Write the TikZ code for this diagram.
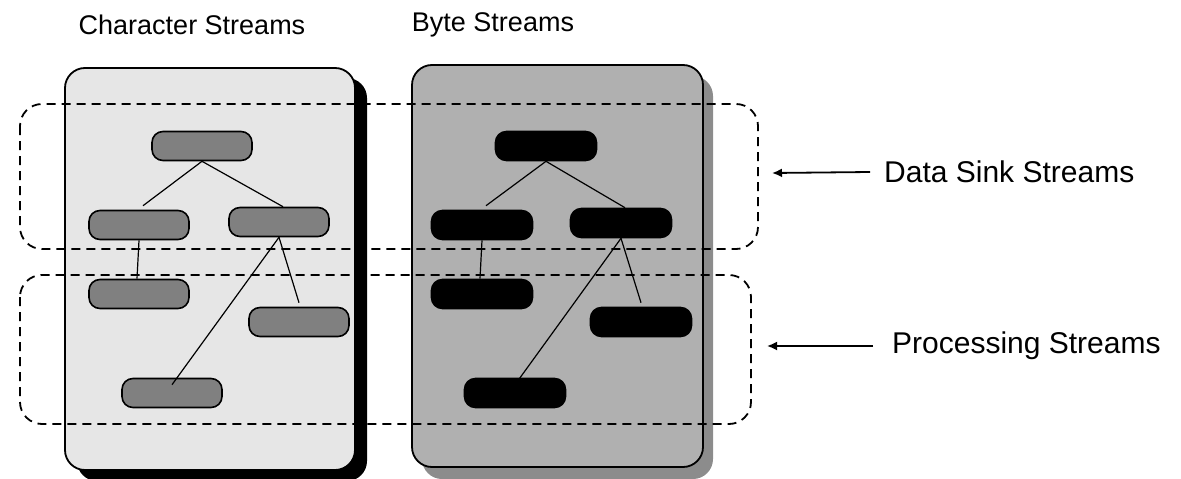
\documentclass[tikz,border=0pt]{standalone}
\usepackage{fontspec}
\setmainfont{Liberation Sans}
\usetikzlibrary{arrows.meta}
\definecolor{charfill}{HTML}{E6E6E6}
\definecolor{bytefill}{HTML}{B0B0B0}
\definecolor{charnode}{HTML}{808080}
\definecolor{byteshadow}{HTML}{8C8C8C}
\tikzset{
  panel/.style={draw=black, line width=1.8pt, rounded corners=20pt},
  cnode/.style={draw=black, fill=charnode, line width=1.6pt, rounded corners=11pt, minimum width=100pt, minimum height=29pt, inner sep=0pt},
  bnode/.style={draw=black, fill=black, line width=1.6pt, rounded corners=11pt, minimum width=101pt, minimum height=29pt, inner sep=0pt},
  link/.style={draw=black, line width=1.2pt},
  region/.style={draw=black, line width=1.8pt, dash pattern=on 9pt off 6pt, rounded corners=22pt},
  toplabel/.style={font=\fontsize{27}{30}\selectfont, inner sep=0pt},
  sidelabel/.style={font=\fontsize{30}{33}\selectfont, inner sep=0pt, anchor=west},
  pointer/.style={draw=black, line width=1.8pt, -{Latex[length=10pt,width=9pt]}}
}
\begin{document}
\begin{tikzpicture}[x=1pt,y=-1pt]
\useasboundingbox (0,0) rectangle (1181,479);
% panels with shadows
\fill[black, rounded corners=20pt] (77,78) rectangle (367,481);
\draw[panel, fill=charfill] (65,68) rectangle (355,470);
\fill[byteshadow, rounded corners=20pt] (422,76) rectangle (713,479);
\draw[panel, fill=bytefill] (412,65) rectangle (703,467);
% labels
\node[toplabel] (lchar) at (192,25) {Character Streams};
\node[toplabel] (lbyte) at (493,25) {Byte Streams};
% character nodes
\node[cnode] (c1) at (202,146) {};
\node[cnode] (c2) at (139,225) {};
\node[cnode] (c3) at (279,222) {};
\node[cnode] (c4) at (139,294) {};
\node[cnode] (c5) at (299,322) {};
\node[cnode] (c6) at (172,393) {};
\draw[link] (c1.south) -- ([xshift=4pt,yshift=4pt]c2.north);
\draw[link] (c1.south) -- ([xshift=4pt]c3.north);
\draw[link] (c2.south) -- ([xshift=-2pt]c4.north);
\draw[link] (c3.south) -- ([yshift=4pt]c5.north);
\draw[link] (c3.south) -- ([yshift=-7pt]c6.north);
% byte nodes
\node[bnode] (b1) at (546,146) {};
\node[bnode] (b2) at (482,225) {};
\node[bnode] (b3) at (621,223) {};
\node[bnode] (b4) at (482,294) {};
\node[bnode] (b5) at (641,322) {};
\node[bnode] (b6) at (515,393) {};
\draw[link] (b1.south) -- ([xshift=4pt,yshift=4pt]b2.north);
\draw[link] (b1.south) -- ([xshift=4pt]b3.north);
\draw[link] (b2.south) -- ([xshift=-2pt]b4.north);
\draw[link] (b3.south) -- ([yshift=4pt]b5.north);
\draw[link] (b3.south) -- ([yshift=-7pt]b6.north);
% dashed regions
\draw[region] (20,104) rectangle (758,249);
\draw[region] (20,275) rectangle (751,424);
% side labels and pointers
\node[sidelabel] (lsink) at (884,172) {Data Sink Streams};
\node[sidelabel] (lproc) at (892,346) {Processing Streams};
\coordinate (asink) at (772,173);
\coordinate (aproc) at (767,346);
\draw[pointer] ([xshift=-14pt]lsink.west) -- (asink);
\draw[pointer] ([xshift=-19pt]lproc.west) -- (aproc);
\end{tikzpicture}
\end{document}
